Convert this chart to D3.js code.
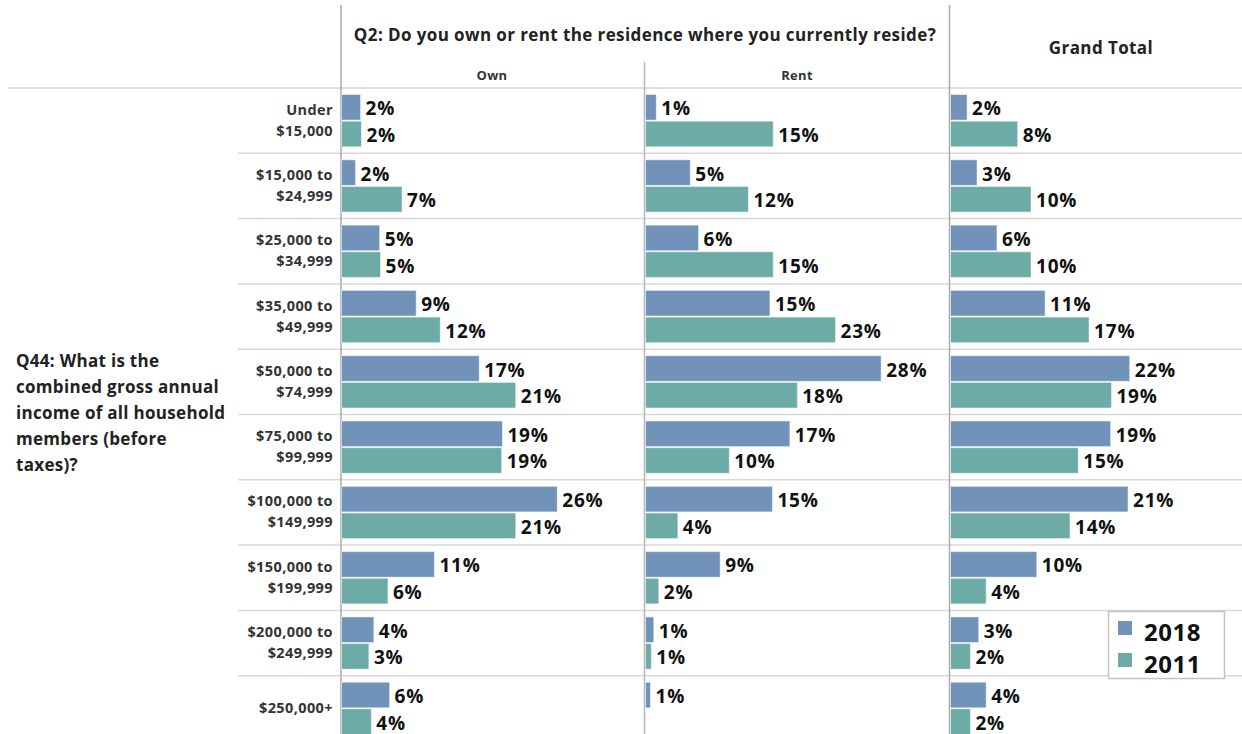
<!DOCTYPE html>
<html>
<head>
<meta charset="utf-8">
<script src="https://cdn.jsdelivr.net/npm/d3@7"></script>
<style>
  html, body { margin: 0; padding: 0; background: #fff; }
  svg { display: block; font-family: "Open Sans", Lato, sans-serif; }
</style>
</head>
<body>
<svg id="chart" width="1242" height="734"></svg>
<script>
// ---------- data ----------
const categories = [
  ["Under", "$15,000"],
  ["$15,000 to", "$24,999"],
  ["$25,000 to", "$34,999"],
  ["$35,000 to", "$49,999"],
  ["$50,000 to", "$74,999"],
  ["$75,000 to", "$99,999"],
  ["$100,000 to", "$149,999"],
  ["$150,000 to", "$199,999"],
  ["$200,000 to", "$249,999"],
  ["$250,000+"]
];
const years = ["2018", "2011"];
const columns = ["Own", "Rent", "Grand Total"];
// percentages (labels show rounded values)
const own2018   = [2.3, 1.7, 4.6, 9.0, 16.6, 19.4, 26.0, 11.2, 3.9, 5.8];
const own2011   = [2.4, 7.3, 4.7, 11.9, 21.0, 19.3, 21.0, 5.6, 3.3, 3.6];
const rent2018  = [1.3, 5.4, 6.4, 15.0, 28.4, 17.4, 15.3, 9.0, 1.0, 0.6];
const rent2011  = [15.4, 12.4, 15.4, 22.9, 18.3, 10.1, 3.9, 1.6, 0.7, null];
const total2018 = [2.0, 3.2, 5.6, 11.4, 21.6, 19.3, 21.4, 10.4, 3.4, 4.3];
const total2011 = [8.1, 9.7, 9.7, 16.7, 19.4, 15.4, 14.4, 4.3, 2.4, 2.4];
const titleTop = "Q2: Do you own or rent the residence where you currently reside?";
const titleLeft = ["Q44: What is the", "combined gross annual", "income of all household", "members (before", "taxes)?"];

const seriesByColumn = {
  "Own": { "2018": own2018, "2011": own2011 },
  "Rent": { "2018": rent2018, "2011": rent2011 },
  "Grand Total": { "2018": total2018, "2011": total2011 }
};

// ---------- layout ----------
const W = 1242, H = 734;
const topY = 88, rowH = 65.3;
const panelX = { "Own": 341, "Rent": 645, "Grand Total": 950 };
const colors = { "2018": "#7193ba", "2011": "#6cabA6" };
const fmt = d3.format(".0f");

const svg = d3.select("#chart");

const y = d3.scaleBand()
  .domain(d3.range(categories.length))
  .range([topY, topY + rowH * categories.length]);
const yInner = d3.scaleBand()
  .domain(years)
  .range([0, rowH])
  .paddingInner(0.04)
  .paddingOuter(0.244);
const x = d3.scaleLinear().domain([0, 37]).range([0, 307]);

// grid lines
const grid = svg.append("g");
grid.selectAll("line.row")
  .data(d3.range(1, categories.length))
  .join("line")
  .attr("x1", 238).attr("x2", W)
  .attr("y1", i => y(i)).attr("y2", i => y(i))
  .attr("stroke", "#d9d9d9").attr("stroke-width", 1.5);
grid.append("line")
  .attr("x1", 8).attr("x2", W).attr("y1", topY).attr("y2", topY)
  .attr("stroke", "#d4d4d4").attr("stroke-width", 1.5);
grid.append("line").attr("x1", 341).attr("x2", 341).attr("y1", 5).attr("y2", H)
  .attr("stroke", "#aaaaaa").attr("stroke-width", 1.5);
grid.append("line").attr("x1", 949.5).attr("x2", 949.5).attr("y1", 5).attr("y2", H)
  .attr("stroke", "#aaaaaa").attr("stroke-width", 1.5);
grid.append("line").attr("x1", 644.5).attr("x2", 644.5).attr("y1", 62).attr("y2", H)
  .attr("stroke", "#b5b5b5").attr("stroke-width", 1.5);

// headers
svg.append("text")
  .attr("x", 645).attr("y", 34)
  .attr("text-anchor", "middle").attr("dominant-baseline", "central")
  .attr("font-size", 17).attr("letter-spacing", 0.4)
  .attr("font-weight", 700).attr("fill", "#222")
  .text(titleTop);
svg.append("text")
  .attr("x", 1101).attr("y", 47)
  .attr("text-anchor", "middle").attr("dominant-baseline", "central")
  .attr("font-size", 17).attr("letter-spacing", 0.4)
  .attr("font-weight", 700).attr("fill", "#222")
  .text("Grand Total");
svg.selectAll("text.colhead")
  .data(["Own", "Rent"])
  .join("text")
  .attr("class", "colhead")
  .attr("x", d => d === "Own" ? 492 : 797).attr("y", 75)
  .attr("text-anchor", "middle").attr("dominant-baseline", "central")
  .attr("font-size", 13).attr("letter-spacing", 0.3)
  .attr("font-weight", 700).attr("fill", "#333")
  .text(d => d);

// left title
svg.append("g").selectAll("text")
  .data(titleLeft)
  .join("text")
  .attr("x", 16).attr("y", (d, i) => 360 + i * 26)
  .attr("dominant-baseline", "central")
  .attr("font-size", 17).attr("letter-spacing", 0.3)
  .attr("font-weight", 700).attr("fill", "#222")
  .text(d => d);

// row labels
const rowLab = svg.append("g");
categories.forEach((lines, i) => {
  const cy = y(i) + rowH / 2 - 1;
  const n = lines.length;
  lines.forEach((ln, k) => {
    rowLab.append("text")
      .attr("x", 333)
      .attr("y", cy + (k - (n - 1) / 2) * 21)
      .attr("text-anchor", "end").attr("dominant-baseline", "central")
      .attr("font-size", 14.5).attr("letter-spacing", 0.4)
      .attr("font-weight", 700).attr("fill", "#333")
      .text(ln);
  });
});

// bars and labels
const marks = [];
columns.forEach(col => {
  years.forEach(yr => {
    seriesByColumn[col][yr].forEach((v, i) => {
      if (v !== null) marks.push({ col, yr, i, v });
    });
  });
});

const g = svg.append("g");
g.selectAll("rect")
  .data(marks)
  .join("rect")
  .attr("x", d => panelX[d.col] + 0.5)
  .attr("y", d => y(d.i) + yInner(d.yr))
  .attr("width", d => x(d.v))
  .attr("height", yInner.bandwidth())
  .attr("fill", d => colors[d.yr])
  .attr("stroke", "#ffffff").attr("stroke-opacity", 0.5).attr("stroke-width", 1);

g.selectAll("text")
  .data(marks)
  .join("text")
  .attr("x", d => panelX[d.col] + 0.5 + x(d.v) + 5)
  .attr("y", d => y(d.i) + yInner(d.yr) + yInner.bandwidth() / 2 + 1)
  .attr("dominant-baseline", "central")
  .attr("font-size", 19).attr("letter-spacing", 0.8)
  .attr("font-weight", 700).attr("fill", "#111")
  .text(d => fmt(d.v) + "%");

// legend
const lg = svg.append("g");
lg.append("rect")
  .attr("x", 1108.5).attr("y", 611.5).attr("width", 116).attr("height", 67)
  .attr("fill", "#fff").attr("stroke", "#c8c4bc").attr("stroke-width", 1.5);
years.forEach((yr, k) => {
  lg.append("rect")
    .attr("x", 1118).attr("y", 621 + k * 32).attr("width", 14).attr("height", 14)
    .attr("fill", colors[yr]);
  lg.append("text")
    .attr("x", 1144).attr("y", 631 + k * 32)
    .attr("dominant-baseline", "central")
    .attr("font-size", 24).attr("letter-spacing", 0.5)
    .attr("font-weight", 700).attr("fill", "#111")
    .text(yr);
});
</script>
</body>
</html>
